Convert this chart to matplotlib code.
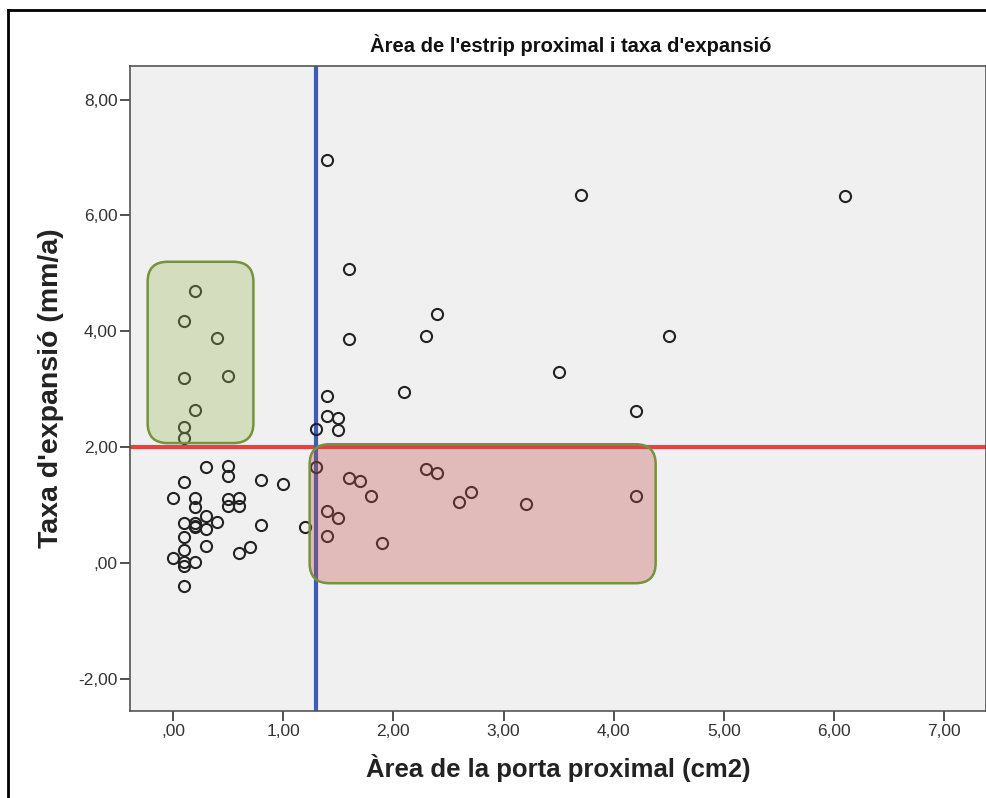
import numpy as np
import matplotlib
matplotlib.use("Agg")
import matplotlib.pyplot as plt
from matplotlib.patches import FancyBboxPatch
from matplotlib.lines import Line2D
from matplotlib.ticker import FuncFormatter

################################ Data ####################################
# Area de la porta proximal (cm2)
area = [1.4, 3.7, 6.1, 1.6,
        0.2, 0.1, 0.4, 0.1, 0.5, 0.2, 0.1, 0.1,
        2.4, 2.3, 1.6, 4.5, 3.5, 2.1, 1.4, 1.4, 1.5, 1.5, 1.3, 4.2,
        1.3, 1.6, 1.7, 1.8, 1.4, 1.5, 1.4, 1.9, 2.3, 2.4, 2.6, 2.7, 3.2, 4.2,
        0.3, 0.5, 0.5, 0.8, 1.0, 0.1, 0.0, 0.2, 0.2, 0.5, 0.6, 0.5, 0.6, 0.3,
        0.1, 0.2, 0.2, 0.2, 0.3, 0.4, 0.8, 1.2, 0.1, 0.3, 0.1, 0.0, 0.1, 0.1,
        0.2, 0.6, 0.7, 0.1]
# Taxa d'expansio (mm/a)
taxa = [6.96, 6.36, 6.34, 5.07,
        4.70, 4.18, 3.88, 3.19, 3.23, 2.64, 2.35, 2.15,
        4.29, 3.91, 3.86, 3.92, 3.29, 2.96, 2.89, 2.53, 2.51, 2.30, 2.31, 2.63,
        1.65, 1.46, 1.42, 1.15, 0.90, 0.78, 0.46, 0.35, 1.62, 1.55, 1.05, 1.23, 1.02, 1.16,
        1.65, 1.68, 1.50, 1.43, 1.36, 1.39, 1.12, 1.12, 0.97, 1.10, 1.12, 0.98, 0.98, 0.81,
        0.69, 0.69, 0.62, 0.63, 0.58, 0.70, 0.66, 0.62, 0.45, 0.30, 0.22, 0.08, 0.01, -0.06,
        0.01, 0.17, 0.27, -0.39]

x_ticks = [0, 1, 2, 3, 4, 5, 6, 7]
y_ticks = [-2, 0, 2, 4, 6, 8]
area_cut = 1.3   # blue reference line
taxa_cut = 2.0   # red reference line

# highlighted regions: (x0, y0, width, height)
green_region = (-0.23, 2.07, 0.96, 3.13)
red_region = (1.24, -0.35, 3.14, 2.40)

title = "Àrea de l'estrip proximal i taxa d'expansió"
x_label = "Àrea de la porta proximal (cm2)"
y_label = "Taxa d'expansió (mm/a)"

############################# Figure settings ############################
plt.rcParams['font.family'] = ['Liberation Sans', 'DejaVu Sans']

fig = plt.figure(figsize=(9.87, 7.98), dpi=100)
ax = fig.add_axes([130/987, 1 - 711/798, (985.7-130)/987, (711-66)/798])
ax.set_facecolor('#f0f0f0')
ax.set_xlim(-0.39, 7.375)
ax.set_ylim(-2.556, 8.58)

def comma_fmt(v, pos):
    s = "%.2f" % v
    if s.startswith("0."):
        s = s[1:]
    return s.replace('.', ',')

ax.xaxis.set_major_formatter(FuncFormatter(comma_fmt))
ax.yaxis.set_major_formatter(FuncFormatter(comma_fmt))
ax.set_xticks(x_ticks)
ax.set_yticks(y_ticks)
ax.tick_params(direction='out', length=7, width=1.2, colors='#333333',
               labelsize=12.5, pad=2)
for side in ['top', 'right', 'bottom', 'left']:
    ax.spines[side].set_color('#555555')
    ax.spines[side].set_linewidth(1.2)

ax.axhline(taxa_cut, color='#e8413f', lw=3, zorder=2)
ax.axvline(area_cut, color='#3f5bb8', lw=3, zorder=2)

ax.plot(area, taxa, 'o', ms=8, mfc='none', mec='#222222', mew=1.5, zorder=3)

# rounded highlight boxes (mutation_aspect keeps the corners round in pixels)
px_x = (985.7 - 130) / (7.375 + 0.39)
px_y = (711 - 66) / (8.58 + 2.556)
for (x0, y0, w, h), fc in [(green_region, '#9bbb59'), (red_region, '#c0504d')]:
    box = FancyBboxPatch((x0, y0), w, h,
                         boxstyle="round,pad=0,rounding_size=%f" % (20 / px_x),
                         mutation_aspect=px_x / px_y,
                         facecolor=matplotlib.colors.to_rgba(fc, 0.33),
                         edgecolor='#76923c', lw=1.8, zorder=4)
    ax.add_patch(box)

ax.set_xlabel(x_label, fontsize=18.5, fontweight='bold', color='#222222', labelpad=11)
ax.set_ylabel(y_label, fontsize=20.5, fontweight='bold', color='#222222', labelpad=10)
fig.text(571/987, 1 - 45/798, title, ha='center', va='center',
         fontsize=14.5, fontweight='bold', color='#111111')

# outer frame (left and top edges visible in the crop)
fig.add_artist(Line2D([8/987, 8/987], [0, 1 - 10/798], color='black', lw=2))
fig.add_artist(Line2D([8/987, 1], [1 - 10/798, 1 - 10/798], color='black', lw=2))

plt.savefig("out.png", dpi=100)
